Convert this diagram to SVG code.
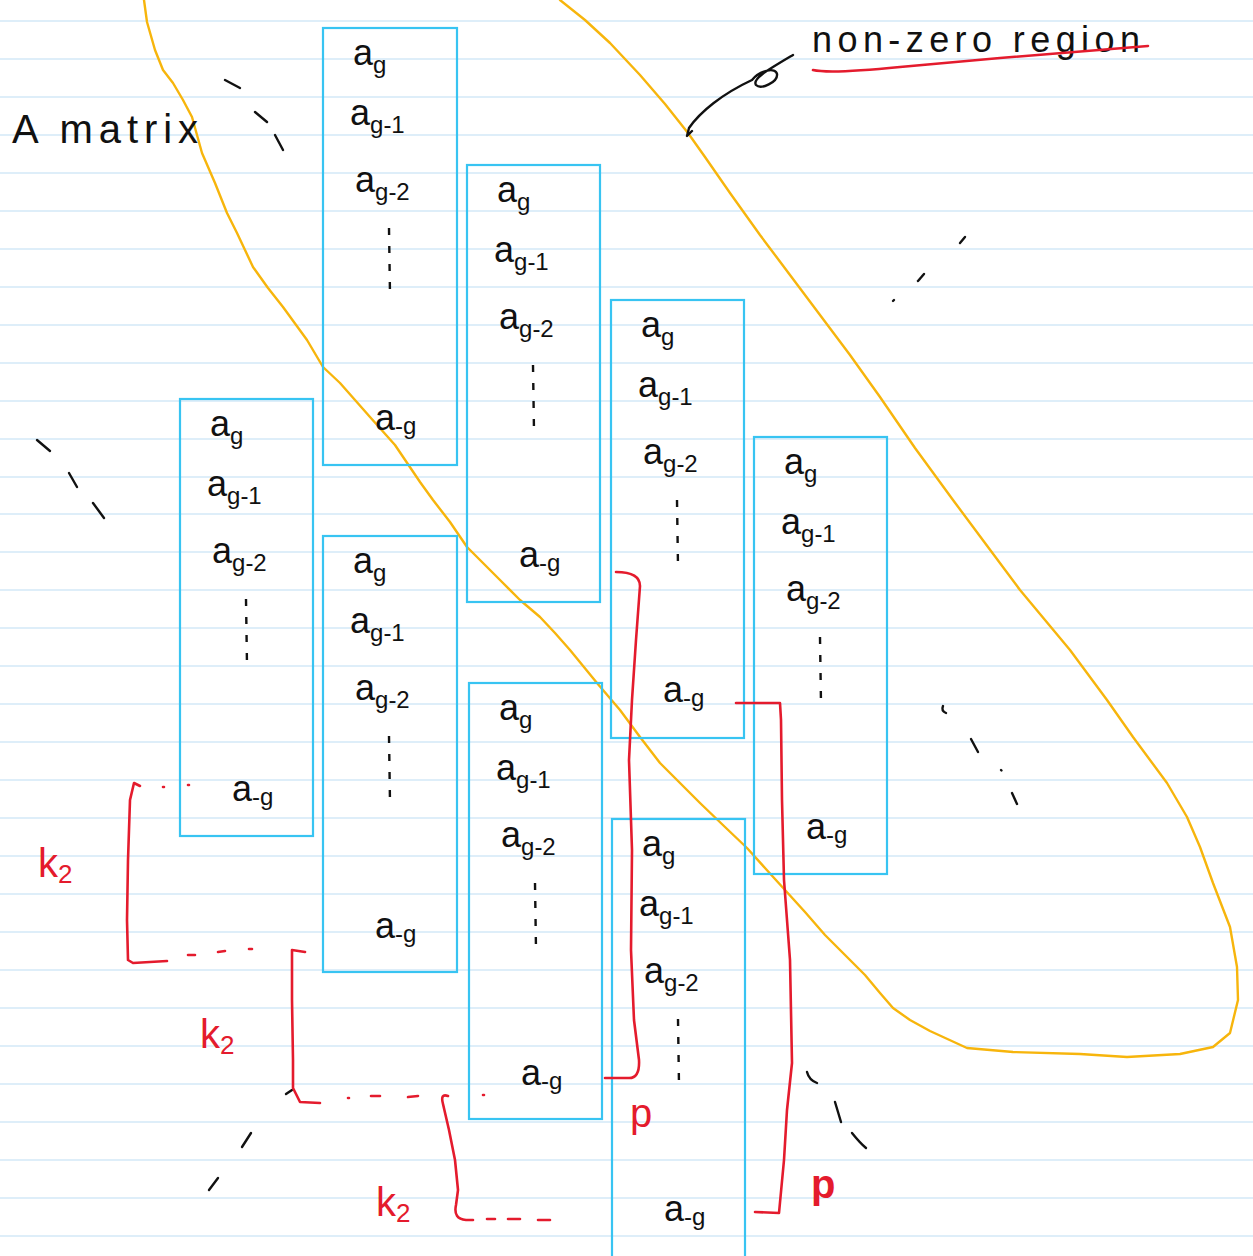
<svg xmlns="http://www.w3.org/2000/svg" width="1253" height="1256" viewBox="0 0 1253 1256">
<defs>
<style>
.rule{stroke:#d3e9f7;stroke-width:1.6}
.box{fill:none;stroke:#38c4f2;stroke-width:2.2}
.t{font-family:"Liberation Sans","DejaVu Sans",sans-serif;fill:#111}
.a{font-size:36px}
.s{font-size:24px}
.dots{stroke:#111;stroke-width:2.4;stroke-dasharray:7 11;fill:none}
.red{fill:none;stroke:#e41b2d;stroke-width:2.6;stroke-linecap:round;stroke-linejoin:round}
.redt{font-family:"Liberation Sans","DejaVu Sans",sans-serif;fill:#e41b2d}
.blk{fill:none;stroke:#111;stroke-width:2.4;stroke-linecap:round;stroke-linejoin:round}
.orange{fill:none;stroke:#f7b50c;stroke-width:2.4;stroke-linejoin:round;stroke-linecap:round}
</style>
<g id="col">
<text class="t a" x="30" y="37">a<tspan class="s" dy="8">g</tspan></text>
<text class="t a" x="27" y="97">a<tspan class="s" dy="8">g-1</tspan></text>
<text class="t a" x="32" y="164">a<tspan class="s" dy="8">g-2</tspan></text>
<line class="dots" x1="66" y1="200" x2="67" y2="266"/>
<text class="t a" x="52" y="402">a<tspan class="s" dy="4">-g</tspan></text>
</g>
</defs>
<rect width="1253" height="1256" fill="#ffffff"/>
<g id="paper">
<line class="rule" x1="0" y1="21" x2="1253" y2="21"/>
<line class="rule" x1="0" y1="59" x2="1253" y2="59"/>
<line class="rule" x1="0" y1="97" x2="1253" y2="97"/>
<line class="rule" x1="0" y1="135" x2="1253" y2="135"/>
<line class="rule" x1="0" y1="173" x2="1253" y2="173"/>
<line class="rule" x1="0" y1="211" x2="1253" y2="211"/>
<line class="rule" x1="0" y1="249" x2="1253" y2="249"/>
<line class="rule" x1="0" y1="287" x2="1253" y2="287"/>
<line class="rule" x1="0" y1="325" x2="1253" y2="325"/>
<line class="rule" x1="0" y1="363" x2="1253" y2="363"/>
<line class="rule" x1="0" y1="401" x2="1253" y2="401"/>
<line class="rule" x1="0" y1="439" x2="1253" y2="439"/>
<line class="rule" x1="0" y1="477" x2="1253" y2="477"/>
<line class="rule" x1="0" y1="514" x2="1253" y2="514"/>
<line class="rule" x1="0" y1="552" x2="1253" y2="552"/>
<line class="rule" x1="0" y1="590" x2="1253" y2="590"/>
<line class="rule" x1="0" y1="628" x2="1253" y2="628"/>
<line class="rule" x1="0" y1="666" x2="1253" y2="666"/>
<line class="rule" x1="0" y1="704" x2="1253" y2="704"/>
<line class="rule" x1="0" y1="742" x2="1253" y2="742"/>
<line class="rule" x1="0" y1="780" x2="1253" y2="780"/>
<line class="rule" x1="0" y1="818" x2="1253" y2="818"/>
<line class="rule" x1="0" y1="856" x2="1253" y2="856"/>
<line class="rule" x1="0" y1="894" x2="1253" y2="894"/>
<line class="rule" x1="0" y1="932" x2="1253" y2="932"/>
<line class="rule" x1="0" y1="970" x2="1253" y2="970"/>
<line class="rule" x1="0" y1="1008" x2="1253" y2="1008"/>
<line class="rule" x1="0" y1="1046" x2="1253" y2="1046"/>
<line class="rule" x1="0" y1="1084" x2="1253" y2="1084"/>
<line class="rule" x1="0" y1="1122" x2="1253" y2="1122"/>
<line class="rule" x1="0" y1="1160" x2="1253" y2="1160"/>
<line class="rule" x1="0" y1="1198" x2="1253" y2="1198"/>
<line class="rule" x1="0" y1="1236" x2="1253" y2="1236"/>
</g>
<g id="region">
<path class="orange" d="M144,0 L147,22 L155,50 L163,70 L173,83 L183,100 L192,117 L197,135 L202,153 L215,183 L227,213 L237,233 L253,267 L268,288 L283,307 L307,340 L323,367 L340,383 L355,400 L370,417 L395,445 L420,482 L433,500 L450,522 L467,547 L480,560 L500,580 L520,600 L540,617 L555,633 L570,650 L597,683 L620,710 L640,737 L660,763 L680,783 L700,803 L725,827 L747,848 L765,868 L785,890 L805,912 L825,935 L845,955 L865,975 L880,993 L893,1008 L910,1020 L930,1031 L967,1048 L1013,1052 L1080,1054 L1127,1057 L1180,1054 L1213,1047 L1230,1033 L1238,1000 L1237,967 L1230,927 L1213,883 L1200,847 L1187,817 L1167,783 L1133,737 L1107,700 L1070,650 L1020,590 L985,543 L953,500 L915,448 L880,397 L850,355 L820,315 L790,275 L760,235 L730,193 L705,157 L688,133 L665,104 L640,75 L610,43 L585,20 L560,0"/>
</g>
<g id="titles">
<text class="t" x="12" y="143" font-size="40" textLength="186" lengthAdjust="spacing">A matrix</text>
<text class="t" x="812" y="52" font-size="36" textLength="328" lengthAdjust="spacing">non-zero region</text>
<path class="red" d="M813,70 Q830,74 900,67 L1000,58 L1148,46"/>
<path class="blk" d="M692,131 L687,136 L689,128 C700,112 722,94 752,80 C760,70 776,67 777,74 C778,82 761,90 756,85 C752,79 766,71 793,55"/>
</g>
<g id="box1" transform="translate(323,28)"><rect class="box" width="134" height="437"/><use href="#col"/></g>
<g id="box2" transform="translate(467,165)"><rect class="box" width="133" height="437"/><use href="#col"/></g>
<g id="box3" transform="translate(611,300)"><rect class="box" width="133" height="438"/><use href="#col"/></g>
<g id="box4" transform="translate(754,437)"><rect class="box" width="133" height="437"/><use href="#col"/></g>
<g id="box5" transform="translate(180,399)"><rect class="box" width="133" height="437"/><use href="#col"/></g>
<g id="box6" transform="translate(323,536)"><rect class="box" width="134" height="436"/><use href="#col"/></g>
<g id="box7" transform="translate(469,683)"><rect class="box" width="133" height="436"/><use href="#col"/></g>
<g id="box8" transform="translate(612,819)"><rect class="box" width="133" height="440"/><use href="#col"/></g>
<g id="ellipsis">
<line class="blk" x1="225" y1="80" x2="240" y2="88"/>
<line class="blk" x1="255" y1="112" x2="267" y2="122"/>
<line class="blk" x1="275" y1="135" x2="283" y2="150"/>
<line class="blk" x1="37" y1="440" x2="50" y2="451"/>
<line class="blk" x1="69" y1="473" x2="77" y2="487"/>
<line class="blk" x1="93" y1="503" x2="104" y2="518"/>
<line class="blk" x1="960" y1="243" x2="965" y2="237"/>
<line class="blk" x1="918" y1="281" x2="924" y2="274"/>
<line class="blk" x1="893" y1="301" x2="894" y2="300"/>
<path class="blk" d="M943,706 Q941,711 946,713"/>
<line class="blk" x1="971" y1="739" x2="978" y2="752"/>
<line class="blk" x1="1001" y1="770" x2="1001.5" y2="770.5"/>
<line class="blk" x1="1012" y1="793" x2="1017" y2="804"/>
<path class="blk" d="M807,1072 Q809,1080 817,1083"/>
<line class="blk" x1="835" y1="1102" x2="841" y2="1122"/>
<path class="blk" d="M852,1133 Q860,1143 866,1148"/>
<line class="blk" x1="242" y1="1147" x2="251" y2="1133"/>
<line class="blk" x1="209" y1="1190" x2="218" y2="1178"/>
<path class="blk" d="M286,1094 L292,1090"/>
</g>
<g id="connectors">
<path class="red" d="M140,786 L134,783 L130,800 L128,860 L127,920 L128,960 L133,963 L167,961"/>
<path class="red" d="M163,787 L164,787 M188,785 L189,785 M188,955 L195,955 M218,952 L225,951 M249,949 L252,949"/>
<path class="red" d="M305,952 L292,950 L292,1000 L293,1060 L293,1088 L300,1102 L320,1103"/>
<path class="red" d="M348,1098 L349,1098 M371,1096 L380,1096 M408,1097 L418,1096 M483,1095 L484,1095"/>
<path class="red" d="M448,1096 Q440,1093 443,1104 L449,1130 L455,1160 L458,1190 L456,1205 Q453,1219 466,1220 L473,1220 M487,1219 L495,1219 M508,1219 L520,1219 M538,1220 L550,1220"/>
<path class="red" d="M616,572 Q640,572 640,586 L636,640 L632,700 L629,760 L632,850 L631,950 L634,1020 L639,1060 Q640,1079 628,1078 L605,1078"/>
<path class="red" d="M736,703 L780,703 L781,720 L782,800 L784,880 L790,960 L792,1063 L787,1110 L784,1160 L779,1213 L755,1212"/>
</g>
<g id="labels">
<text class="redt" x="38" y="877" font-size="40">k<tspan font-size="26" dy="6">2</tspan></text>
<text class="redt" x="200" y="1048" font-size="40">k<tspan font-size="26" dy="6">2</tspan></text>
<text class="redt" x="376" y="1216" font-size="40">k<tspan font-size="26" dy="6">2</tspan></text>
<text class="redt" x="630" y="1127" font-size="40">p</text>
<text class="redt" x="811" y="1198" font-size="40" font-weight="bold">p</text>
</g>
</svg>
